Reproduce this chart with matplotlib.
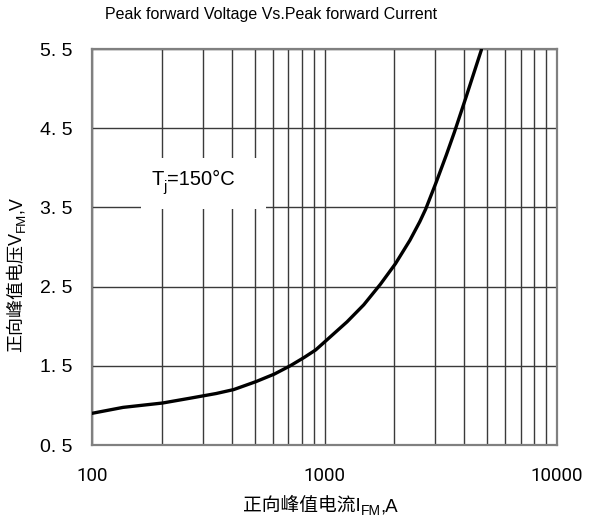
import matplotlib
matplotlib.use("Agg")
import matplotlib.pyplot as plt
from matplotlib.patches import Rectangle
from matplotlib.ticker import FixedLocator, LogLocator, NullFormatter

plt.rcParams["font.family"] = ["Liberation Sans", "Noto Sans CJK SC", "DejaVu Sans"]

# Curve (Tj = 150 C)
current = [100, 136, 201, 263, 342, 407, 507, 608, 712, 817, 916, 1000,
           1250, 1475, 1740, 2020, 2330, 2570, 2725, 3025, 3340, 3620, 4060, 4730]
voltage = [0.90, 0.975, 1.03, 1.09, 1.15, 1.20, 1.30, 1.395, 1.50, 1.605, 1.70, 1.80,
           2.055, 2.27, 2.53, 2.79, 3.085, 3.32, 3.48, 3.82, 4.16, 4.45, 4.89, 5.49]

y_ticks = [0.5, 1.5, 2.5, 3.5, 4.5, 5.5]
y_tick_labels = ["0. 5", "1. 5", "2. 5", "3. 5", "4. 5", "5. 5"]
x_ticks = [100, 1000, 10000]
x_tick_labels = ["100", "1000", "10000"]

title = "Peak forward Voltage Vs.Peak forward Current"
# labels split in pieces: main text, subscript, tail
xlabel_parts = ["正向峰值电流I", "FM", ",A"]
ylabel_parts = ["正向峰值电压V", "FM", ",V"]
note_parts = ["T", "j", "=150°C"]

W, H = 590, 522
fig = plt.figure(figsize=(5.9, 5.22), dpi=100)
ax = fig.add_axes([92 / W, 77 / H, 465 / W, 396 / H])

ax.set_xscale("log")
ax.set_xlim(100, 10000)
ax.set_ylim(0.5, 5.5)

ax.xaxis.set_major_locator(FixedLocator(x_ticks))
ax.xaxis.set_minor_locator(LogLocator(base=10, subs=range(2, 10)))
ax.xaxis.set_minor_formatter(NullFormatter())
ax.set_xticklabels(x_tick_labels, family="Roboto", fontsize=13.5)
ax.yaxis.set_major_locator(FixedLocator(y_ticks))
ax.set_yticklabels(y_tick_labels, family="Liberation Sans", fontsize=14)

ax.tick_params(axis="both", which="both", length=0)
ax.tick_params(axis="x", pad=16)
ax.tick_params(axis="y", pad=14)

ax.grid(True, which="both", color="#3a3a3a", lw=1.0)
for s in ax.spines.values():
    s.set_color("#808080")
    s.set_linewidth(1.6)

# white box behind the temperature note
ax.add_patch(Rectangle((0.105, 0.596), 0.27, 0.13, transform=ax.transAxes,
                       facecolor="white", edgecolor="none", zorder=2))
t1 = ax.text(0.129, 0.67, note_parts[0], transform=ax.transAxes, fontsize=14.5,
             ha="left", va="center", zorder=3)
t2 = ax.annotate(note_parts[1], xy=(0.95, 0.12), xycoords=t1, fontsize=10.5,
                 ha="left", va="center", zorder=3)
ax.annotate(note_parts[2], xy=(1, 0), xycoords=(t2, t1), fontsize=14.5,
            ha="left", va="bottom", zorder=3)

ax.plot(current, voltage, color="black", lw=2.4, zorder=4,
        solid_joinstyle="round", solid_capstyle="round")

# x label
xa = fig.text(243 / W, 1 - 515 / H, xlabel_parts[0], fontsize=13.5,
              ha="left", va="bottom")
xb = ax.annotate(xlabel_parts[1], xy=(1, 0), xycoords=xa, xytext=(0, -2),
                 textcoords="offset points", fontsize=10, ha="left", va="bottom",
                 annotation_clip=False)
ax.annotate(xlabel_parts[2], xy=(1, 0), xycoords=(xb, xa), fontsize=13.5,
            ha="left", va="bottom", annotation_clip=False)

# y label (rotated, reads bottom to top)
ya = fig.text(8 / W, 1 - 352 / H, ylabel_parts[0], fontsize=13, rotation=90,
              ha="left", va="bottom")
yb = ax.annotate(ylabel_parts[1], xy=(1, 1), xycoords=ya, xytext=(2, 0),
                 textcoords="offset points", fontsize=9.5, rotation=90,
                 ha="right", va="bottom", annotation_clip=False)
ax.annotate(ylabel_parts[2], xy=(1, 1), xycoords=(ya, yb), fontsize=13,
            rotation=90, ha="right", va="bottom", annotation_clip=False)

fig.text(271 / W, 1 - 15 / H, title, ha="center", va="center", fontsize=11.5)

fig.savefig("out.png", dpi=100)
